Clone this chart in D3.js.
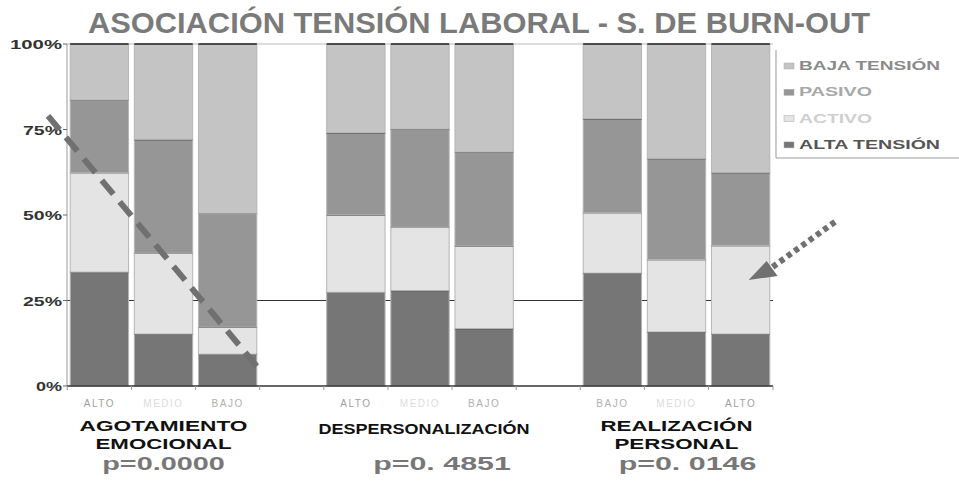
<!DOCTYPE html>
<html>
<head>
<meta charset="utf-8">
<script src="https://cdn.jsdelivr.net/npm/d3@7"></script>
<style>
  body { margin: 0; background: #fff; }
  svg { display: block; }
</style>
</head>
<body>
<svg id="chart" width="959" height="482"></svg>
<script>
// data (percent, bottom to top)
const groups = ["AGOTAMIENTO|EMOCIONAL", "DESPERSONALIZACIÓN", "REALIZACIÓN|PERSONAL"];
const levels = [["ALTO", "MEDIO", "BAJO"], ["ALTO", "MEDIO", "BAJO"], ["BAJO", "MEDIO", "ALTO"]];
const pValues = ["p=0.0000", "p=0. 4851", "p=0. 0146"];
const series = ["ALTA TENSIÓN", "ACTIVO", "PASIVO", "BAJA TENSIÓN"];
const altaTension = [33.3, 15.2, 9.3, 27.4, 27.9, 16.8, 33.0, 15.8, 15.2];
const activo = [29.1, 23.6, 7.9, 22.7, 18.5, 24.2, 17.7, 21.2, 25.9];
const pasivo = [21.2, 33.3, 33.3, 23.9, 28.7, 27.4, 27.4, 29.5, 21.3];
const bajaTension = [16.4, 27.9, 49.5, 26.0, 24.9, 31.6, 21.9, 33.5, 37.6];
const yTicks = [0, 25, 50, 75, 100];

const colors = {"ALTA TENSIÓN": "#767676", "ACTIVO": "#e4e4e4", "PASIVO": "#969696", "BAJA TENSIÓN": "#c4c4c4"};
const legendText = {"ALTA TENSIÓN": "#555", "ACTIVO": "#cfcfcf", "PASIVO": "#a8a8a8", "BAJA TENSIÓN": "#8a8a8a"};
const levelColor = {"ALTO": "#a0a0a0", "MEDIO": "#dcdcdc", "BAJO": "#b0b0b0"};

// slots: 3 bars per group, one empty slot between groups
let slots = [], rows = [], k = 0;
groups.forEach(function (g, gi) {
    levels[gi].forEach(function (lv, li) {
        let id = "s" + gi + "_" + li;
        slots.push(id);
        rows.push({id: id, group: gi, level: lv,
            "ALTA TENSIÓN": altaTension[k], "ACTIVO": activo[k], "PASIVO": pasivo[k], "BAJA TENSIÓN": bajaTension[k]});
        k++;
    });
    if (gi < groups.length - 1) slots.push("gap" + gi);
});

let svg = d3.select("#chart"),
    margin = {top: 44, right: 186, bottom: 96, left: 67},
    width = 959 - margin.left - margin.right,
    height = 482 - margin.top - margin.bottom,
    g = svg.append("g").attr("transform", "translate(" + margin.left + "," + margin.top + ")");

let x = d3.scaleBand().domain(slots).range([0, width]).paddingInner(0.09).paddingOuter(0.05);
let y = d3.scaleLinear().domain([0, 100]).range([height, 0]);
let step = x.step();
let slotLeft = function (id) { return x(id) - x.paddingInner() * step / 2; };

// title
svg.append("text")
    .attr("x", 479).attr("y", 33)
    .attr("text-anchor", "middle")
    .attr("textLength", 782).attr("lengthAdjust", "spacingAndGlyphs")
    .style("font-family", "'Liberation Sans Narrow', 'Liberation Sans', sans-serif")
    .style("font-weight", "bold").style("font-size", "30px")
    .style("fill", "#7a7a7a")
    .text("ASOCIACIÓN TENSIÓN LABORAL - S. DE BURN-OUT");

// grid lines at 100% and 25%
g.append("line").attr("x1", 0).attr("x2", width).attr("y1", y(100)).attr("y2", y(100))
    .style("stroke", "#bbb").style("stroke-width", 1);
g.append("line").attr("x1", 0).attr("x2", width).attr("y1", y(25)).attr("y2", y(25))
    .style("stroke", "#333").style("stroke-width", 1);

// stacked bars
let stacked = d3.stack().keys(series)(rows);
let layer = g.selectAll(".layer")
    .data(stacked)
    .enter().append("g")
    .attr("class", "layer")
    .style("fill", function (d) { return colors[d.key]; });

layer.selectAll("rect")
    .data(function (d) { return d; })
    .enter().append("rect")
    .attr("x", function (d) { return x(d.data.id); })
    .attr("y", function (d) { return y(d[1]); })
    .attr("width", x.bandwidth())
    .attr("height", function (d) { return y(d[0]) - y(d[1]); })
    .style("stroke", "#b5b5b5").style("stroke-width", 1);

// dark line on top of each segment
layer.selectAll("line")
    .data(function (d) { return d; })
    .enter().append("line")
    .attr("x1", function (d) { return x(d.data.id); })
    .attr("x2", function (d) { return x(d.data.id) + x.bandwidth(); })
    .attr("y1", function (d) { return y(d[1]); })
    .attr("y2", function (d) { return y(d[1]); })
    .style("stroke", "#222").style("stroke-width", 1.5);

// axes
g.append("line").attr("x1", 0).attr("x2", 0).attr("y1", 0).attr("y2", height)
    .style("stroke", "#999");
g.append("line").attr("x1", 0).attr("x2", width).attr("y1", height).attr("y2", height)
    .style("stroke", "#333").style("stroke-width", 1.5);

let bounds = slots.map(slotLeft).concat([width]);
g.selectAll(".xtick").data(bounds).enter().append("line")
    .attr("x1", function (d) { return d; }).attr("x2", function (d) { return d; })
    .attr("y1", height).attr("y2", height + 4)
    .style("stroke", "#999");

g.selectAll(".ytick").data(yTicks).enter().append("line")
    .attr("x1", -4).attr("x2", 0)
    .attr("y1", function (d) { return y(d); }).attr("y2", function (d) { return y(d); })
    .style("stroke", "#666");

g.selectAll(".ylab").data(yTicks).enter().append("text")
    .attr("x", -5)
    .attr("y", function (d) { return y(d) + 5; })
    .attr("text-anchor", "end")
    .attr("textLength", function (d) { return (d + "%").length * 13; })
    .attr("lengthAdjust", "spacingAndGlyphs")
    .style("font-family", "'Liberation Sans', Arial, sans-serif")
    .style("font-weight", "bold").style("font-size", "12px")
    .style("fill", "#333")
    .text(function (d) { return d + "%"; });

// level labels under bars
g.selectAll(".xlab").data(rows).enter().append("text")
    .attr("x", function (d) { return x(d.id) + x.bandwidth() / 2; })
    .attr("y", height + 21)
    .attr("text-anchor", "middle")
    .style("font-family", "'Liberation Sans', Arial, sans-serif")
    .style("font-size", "10px").style("letter-spacing", "1.5px")
    .style("fill", function (d) { return levelColor[d.level]; })
    .text(function (d) { return d.level; });

// group labels and p values
groups.forEach(function (name, gi) {
    let ids = slots.filter(function (s) { return s.indexOf("s" + gi + "_") === 0; });
    let cx = (x(ids[0]) + x(ids[2]) + x.bandwidth()) / 2 + (gi === 1 ? 4 : 0);
    let lines = name.split("|");
    let widths = {"AGOTAMIENTO": 168, "EMOCIONAL": 136, "DESPERSONALIZACIÓN": 211, "REALIZACIÓN": 152, "PERSONAL": 124};
    lines.forEach(function (ln, li) {
        g.append("text")
            .attr("x", cx)
            .attr("y", lines.length === 1 ? height + 48 : height + 45 + li * 18)
            .attr("text-anchor", "middle")
            .attr("textLength", widths[ln]).attr("lengthAdjust", "spacingAndGlyphs")
            .style("font-family", "'Liberation Sans', Arial, sans-serif")
            .style("font-weight", "bold").style("font-size", "15px")
            .style("fill", "#111")
            .text(ln);
    });
    g.append("text")
        .attr("x", cx + (gi === 1 ? 18 : gi === 2 ? 11 : 0))
        .attr("y", height + 84)
        .attr("text-anchor", "middle")
        .attr("textLength", pValues[gi].length * 15.3).attr("lengthAdjust", "spacingAndGlyphs")
        .style("font-family", "'Liberation Sans', Arial, sans-serif")
        .style("font-weight", "bold").style("font-size", "19px")
        .style("fill", "#777")
        .text(pValues[gi]);
});

// legend
let lg = svg.append("g").attr("transform", "translate(" + (margin.left + width + 3) + ",0)");
lg.append("path").attr("d", "M0,50V158H190")
    .style("fill", "none").style("stroke", "#999");
series.slice().reverse().forEach(function (s, i) {
    let ly = 70 + i * 26.3;
    lg.append("rect").attr("x", 8).attr("y", ly - 7).attr("width", 10).attr("height", 6)
        .style("fill", colors[s]).style("stroke", "#aaa").style("stroke-width", 0.5);
    lg.append("text")
        .attr("x", 23).attr("y", ly)
        .attr("textLength", s.length > 6 ? 141 : 73).attr("lengthAdjust", "spacingAndGlyphs")
        .style("font-family", "'Liberation Sans', Arial, sans-serif")
        .style("font-weight", "bold").style("font-size", "13px")
        .style("fill", legendText[s])
        .text(s);
});

// annotations: dashed diagonal over first group, dotted arrow to last bar
let firstEnd = x("s0_2") + x.bandwidth();
g.append("line")
    .attr("x1", -19).attr("y1", y(79))
    .attr("x2", firstEnd + 5).attr("y2", y(4))
    .style("stroke", "#707070").style("stroke-width", 6)
    .style("stroke-dasharray", "18,10");

let tipX = x("s2_2") + x.bandwidth() / 2 + 8, tipY = y(31);
g.append("line")
    .attr("x1", width + 62).attr("y1", y(48))
    .attr("x2", tipX + 24).attr("y2", tipY - 13)
    .style("stroke", "#707070").style("stroke-width", 6)
    .style("stroke-dasharray", "5,4");
g.append("path")
    .attr("d", "M" + tipX + "," + tipY + "L" + (tipX + 18) + "," + (tipY - 19) + "L" + (tipX + 29) + "," + (tipY - 4) + "Z")
    .style("fill", "#707070");
</script>
</body>
</html>
